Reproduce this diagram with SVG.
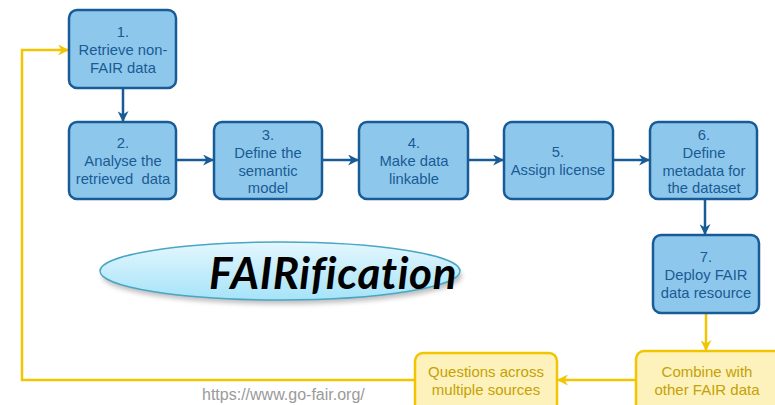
<svg xmlns="http://www.w3.org/2000/svg" width="775" height="405" viewBox="0 0 775 405">
  <style>
    .step rect { fill: #8dc8ec; stroke: #185b97; stroke-width: 2.5; }
    .step text { font-family: "Liberation Sans", Arial, sans-serif; font-size: 14.8px; fill: #1b5a94; text-anchor: middle; }
    .note rect { fill: #fdf2bb; stroke: #f1c500; stroke-width: 2.5; }
    .note text { font-family: "Liberation Sans", Arial, sans-serif; font-size: 15px; fill: #c5a106; text-anchor: middle; }
    .blue { stroke: #185b97; stroke-width: 2.5; fill: none; marker-end: url(#headBlue); }
    .gold { stroke: #f1c500; stroke-width: 2.5; fill: none; marker-end: url(#headGold); }
    .url { font-family: "Liberation Sans", Arial, sans-serif; font-size: 16px; fill: #9a9a9a; }
    .title { font-family: Lato, "Open Sans", sans-serif; font-size: 44px; font-weight: bold; font-style: italic; fill: #000; text-anchor: middle; font-variant-ligatures: none; letter-spacing: 0.6px; }
  </style>
  <defs>
    <marker id="headBlue" viewBox="0 0 10 10" refX="9" refY="5" markerWidth="4.4" markerHeight="4.4" orient="auto" markerUnits="strokeWidth">
      <path d="M0,0 L10,5 L0,10 L3,5 Z" fill="#185b97"/>
    </marker>
    <marker id="headGold" viewBox="0 0 10 10" refX="9" refY="5" markerWidth="4.4" markerHeight="4.4" orient="auto" markerUnits="strokeWidth">
      <path d="M0,0 L10,5 L0,10 L3,5 Z" fill="#f1c500"/>
    </marker>
    <linearGradient id="pill" x1="0" y1="0" x2="0" y2="1">
      <stop offset="0" stop-color="#e4f7fe"/>
      <stop offset="1" stop-color="#a6e3f9"/>
    </linearGradient>
    <filter id="soft" x="-10%" y="-30%" width="120%" height="170%">
      <feGaussianBlur stdDeviation="2.5"/>
    </filter>
  </defs>

  <rect width="775" height="405" fill="#ffffff"/>

  <!-- connectors -->
  <g id="connectors">
    <path class="blue" d="M123,89 V121"/>
    <path class="blue" d="M177,160 H213"/>
    <path class="blue" d="M323,160 H358"/>
    <path class="blue" d="M469,160 H503"/>
    <path class="blue" d="M614,160 H649"/>
    <path class="blue" d="M705,200 V234"/>
    <path class="gold" d="M706,314 V350"/>
    <path class="gold" d="M636,380 H558"/>
    <path class="gold" d="M415,380 H22 V50 H68"/>
  </g>

  <!-- title ellipse -->
  <g id="fairification">
    <ellipse cx="282" cy="276" rx="180" ry="28" fill="#000" opacity="0.25" filter="url(#soft)"/>
    <ellipse cx="280" cy="271" rx="180" ry="29" fill="url(#pill)" stroke="#4aa6c3" stroke-width="1.5"/>
    <text class="title" x="333" y="289">FAIRification</text>
  </g>

  <g id="step1" class="step">
    <rect x="69" y="10" width="107" height="78" rx="8"/>
    <text x="123" y="37">1.</text>
    <text x="123" y="55">Retrieve non-</text>
    <text x="123" y="73">FAIR data</text>
  </g>
  <g id="step2" class="step">
    <rect x="69" y="122" width="107" height="77" rx="8"/>
    <text x="123" y="148">2.</text>
    <text x="123" y="166">Analyse the</text>
    <text x="123" y="184" xml:space="preserve">retrieved  data</text>
  </g>
  <g id="step3" class="step">
    <rect x="214" y="122" width="108" height="77" rx="8"/>
    <text x="268" y="140">3.</text>
    <text x="268" y="158">Define the</text>
    <text x="268" y="176">semantic</text>
    <text x="268" y="193">model</text>
  </g>
  <g id="step4" class="step">
    <rect x="359" y="122" width="109" height="77" rx="8"/>
    <text x="414" y="148">4.</text>
    <text x="414" y="166">Make data</text>
    <text x="414" y="184">linkable</text>
  </g>
  <g id="step5" class="step">
    <rect x="504" y="122" width="109" height="77" rx="8"/>
    <text x="558" y="157">5.</text>
    <text x="558" y="175">Assign license</text>
  </g>
  <g id="step6" class="step">
    <rect x="650" y="122" width="107" height="77" rx="8"/>
    <text x="704" y="140">6.</text>
    <text x="704" y="158">Define</text>
    <text x="704" y="176">metadata for</text>
    <text x="704" y="193">the dataset</text>
  </g>
  <g id="step7" class="step">
    <rect x="653" y="235" width="106" height="78" rx="8"/>
    <text x="706" y="262">7.</text>
    <text x="706" y="280">Deploy FAIR</text>
    <text x="706" y="298">data resource</text>
  </g>

  <g id="combine" class="note">
    <rect x="636" y="351" width="150" height="70" rx="8"/>
    <text x="707" y="377">Combine with</text>
    <text x="707" y="395">other FAIR data</text>
  </g>
  <g id="questions" class="note">
    <rect x="415" y="353" width="142" height="65" rx="8"/>
    <text x="486" y="377">Questions across</text>
    <text x="486" y="395">multiple sources</text>
  </g>

  <text class="url" x="202" y="400">https://www.go-fair.org/</text>
</svg>
